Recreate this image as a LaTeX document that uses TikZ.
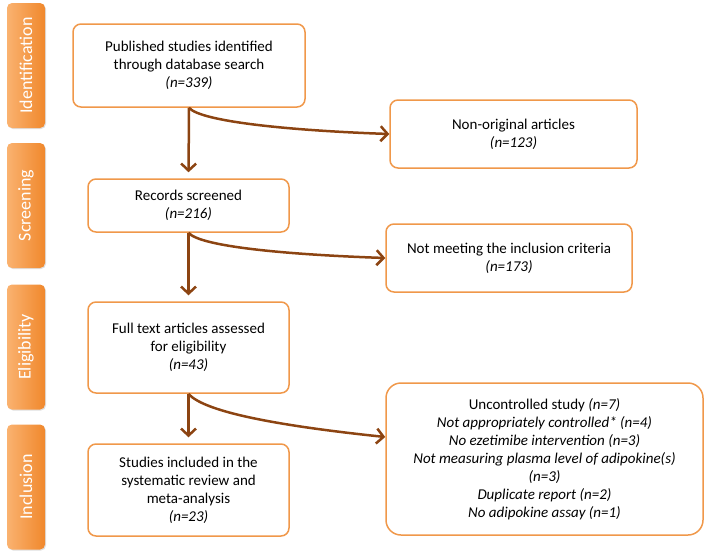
\documentclass[tikz,border=0pt]{standalone}
\usepackage{fontspec}
\setmainfont{Carlito}
\usetikzlibrary{arrows.meta,positioning,shadows}

\definecolor{boxorange}{RGB}{240,152,74}
\definecolor{tablight}{RGB}{250,178,112}
\definecolor{tabdark}{RGB}{240,136,44}
\definecolor{arrowbrown}{RGB}{140,68,18}

\tikzset{
  stagebox/.style={draw=boxorange,line width=1.5pt,rounded corners=8pt,fill=white,
    align=center,inner sep=0pt,font=\fontsize{15}{18}\selectfont},
  stagetab/.style={rounded corners=5pt,left color=tablight,right color=tabdark,
    minimum width=125pt,minimum height=38pt,inner sep=0pt,text=white,rotate=90,
    font=\fontsize{18}{20}\selectfont,
    drop shadow={shadow xshift=1pt,shadow yshift=-1pt,opacity=0.25}},
  flow/.style={draw=arrowbrown,line width=2.5pt,-{Straight Barb[length=7pt,width=15pt]}},
}

\begin{document}
\begin{tikzpicture}[x=1pt,y=1pt]
\useasboundingbox (0,0) rectangle (709,-557);

% the stage tabs
\node[stagetab] (tabid) at (26,-65.5) {Identification};
\node[stagetab] (tabsc) at (26,-205.5) {Screening};
\node[stagetab] (tabel) at (26,-347) {Eligibility};
\node[stagetab] (tabin) at (26,-487) {Inclusion};

% the main boxes
\node[stagebox,minimum width=232pt,minimum height=83pt] (ident) at (189,-65.5)
  {Published studies identified\\through database search\\\textit{(n=339)}};
\node[stagebox,minimum width=201pt,minimum height=53pt] (screen) at (188.5,-205.5)
  {Records screened\\\textit{(n=216)}};
\node[stagebox,minimum width=201pt,minimum height=91pt] (elig) at (188.5,-347.5)
  {Full text articles assessed\\for eligibility\\\textit{(n=43)}};
\node[stagebox,minimum width=201pt,minimum height=92pt] (incl) at (188.5,-490)
  {Studies included in the\\systematic review and\\meta-analysis\\\textit{(n=23)}};

% the excluded boxes
\node[stagebox,minimum width=247pt,minimum height=68pt] (nonorig) at (513.5,-134)
  {Non-original articles\\\textit{(n=123)}};
\node[stagebox,minimum width=246pt,minimum height=68pt] (notmeet) at (509,-258)
  {Not meeting the inclusion criteria\\\textit{(n=173)}};
\node[stagebox,rounded corners=15pt,minimum width=317pt,minimum height=152pt] (excl) at (544.5,-459)
  {Uncontrolled study \textit{(n=7)}\\
   \textit{Not appropriately controlled* (n=4)}\\
   \textit{No ezetimibe intervention (n=3)}\\
   \textit{Not measuring plasma level of adipokine(s)}\\
   \textit{(n=3)}\\
   \textit{Duplicate report (n=2)}\\
   \textit{No adipokine assay (n=1)}};
\coordinate (exclin) at ([yshift=22pt]excl.west);

% the arrows
\draw[flow,shorten >=6pt] (ident.south) -- (screen.north);
\draw[flow,shorten >=6pt] (screen.south) -- (elig.north);
\draw[flow,shorten >=6pt] (elig.south) -- (incl.north);

\draw[flow] (ident.south) to[out=-50,in=178,out distance=18pt,in distance=100pt] (nonorig.west);
\draw[flow] (screen.south) to[out=-50,in=178,out distance=18pt,in distance=100pt] (notmeet.west);
\draw[flow] (elig.south) to[out=-50,in=174,out distance=25pt,in distance=100pt] (exclin);

\end{tikzpicture}
\end{document}
